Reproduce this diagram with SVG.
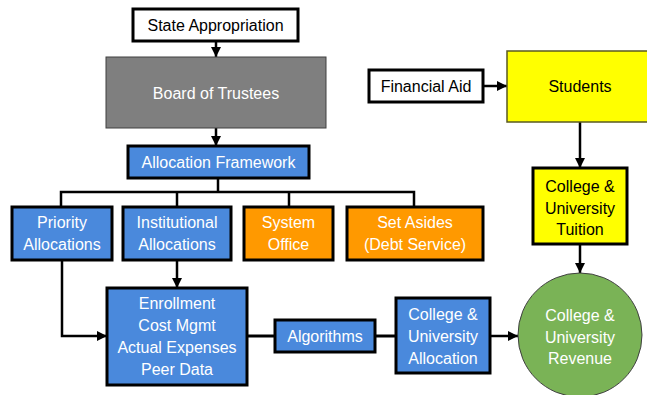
<svg xmlns="http://www.w3.org/2000/svg" width="647" height="395" viewBox="0 0 647 395">
<defs>
<marker id="ah" viewBox="0 0 10 10" refX="10" refY="5" markerWidth="4" markerHeight="4" orient="auto" markerUnits="strokeWidth">
<path d="M0,0 L10,5 L0,10 z" fill="#000"/>
</marker>
<style>
text{font-family:"Liberation Sans",Arial,sans-serif;font-size:16px;text-anchor:middle}
.w{fill:#fff}
.k{fill:#000}
.box{stroke:#000;stroke-width:3}
.blue{fill:#4A89DC}
.orange{fill:#FF9900}
.yellow{fill:#FFFF00}
.white{fill:#fff}
.conn{stroke:#000;stroke-width:2.5;fill:none}
</style>
</defs>
<rect width="647" height="395" fill="#fff"/>
<g id="connectors">
<path class="conn" d="M216,41 V57" marker-end="url(#ah)"/>
<path class="conn" d="M216,128 V146" marker-end="url(#ah)"/>
<path class="conn" d="M218,178 V192"/>
<path class="conn" d="M61,207 V192 H414 V207"/>
<path class="conn" d="M177,192 V207"/>
<path class="conn" d="M289,192 V207"/>
<path class="conn" d="M177,260 V288" marker-end="url(#ah)"/>
<path class="conn" d="M62,260 V336 H107" marker-end="url(#ah)"/>
<path class="conn" d="M247,336 H275" style="stroke-width:3"/>
<path class="conn" d="M375,336 H396" style="stroke-width:3"/>
<path class="conn" d="M490,336 H518" marker-end="url(#ah)"/>
<path class="conn" d="M483,86 H507" marker-end="url(#ah)"/>
<path class="conn" d="M580,122 V168" marker-end="url(#ah)"/>
<path class="conn" d="M580,244 V273" marker-end="url(#ah)"/>
</g>
<g id="state">
<rect class="box white" x="133" y="9" width="165" height="32"/>
<text class="k" x="215.5" y="31">State Appropriation</text>
</g>
<g id="board">
<rect x="106" y="57" width="220" height="71" fill="#7F7F7F" stroke="#404040" stroke-width="1"/>
<text class="w" x="216" y="98.5">Board of Trustees</text>
</g>
<g id="framework">
<rect class="box blue" x="128" y="146" width="181" height="32"/>
<text class="w" x="218.5" y="168">Allocation Framework</text>
</g>
<g id="priority">
<rect class="box blue" x="12" y="207" width="100" height="53"/>
<text class="w" x="62" y="228">Priority</text>
<text class="w" x="62" y="250">Allocations</text>
</g>
<g id="institutional">
<rect class="box blue" x="123" y="207" width="108" height="53"/>
<text class="w" x="177" y="228">Institutional</text>
<text class="w" x="177" y="250">Allocations</text>
</g>
<g id="system">
<rect class="box orange" x="244" y="207" width="89" height="53"/>
<text class="w" x="288.5" y="228">System</text>
<text class="w" x="288.5" y="250">Office</text>
</g>
<g id="setasides">
<rect class="box orange" x="347" y="207" width="136" height="53"/>
<text class="w" x="415" y="228">Set Asides</text>
<text class="w" x="415" y="250">(Debt Service)</text>
</g>
<g id="enrollment">
<rect class="box blue" x="107" y="288" width="140" height="97"/>
<text class="w" x="177" y="309">Enrollment</text>
<text class="w" x="177" y="331">Cost Mgmt</text>
<text class="w" x="177" y="353">Actual Expenses</text>
<text class="w" x="177" y="375">Peer Data</text>
</g>
<g id="algorithms">
<rect class="box blue" x="275" y="320" width="100" height="32"/>
<text class="w" x="325" y="342">Algorithms</text>
</g>
<g id="allocation">
<rect class="box blue" x="396" y="298" width="94" height="75"/>
<text class="w" x="443" y="320">College &amp;</text>
<text class="w" x="443" y="342">University</text>
<text class="w" x="443" y="364">Allocation</text>
</g>
<g id="revenue">
<circle cx="580" cy="335" r="62" fill="#7AB356" stroke="#404040" stroke-width="1"/>
<text class="w" x="580" y="321">College &amp;</text>
<text class="w" x="580" y="343">University</text>
<text class="w" x="580" y="364">Revenue</text>
</g>
<g id="financialaid">
<rect class="box white" x="369" y="70" width="114" height="32"/>
<text class="k" x="426" y="92">Financial Aid</text>
</g>
<g id="students">
<rect x="507" y="51" width="146" height="71" fill="#FFFF00" stroke="#5a5a20" stroke-width="1.5"/>
<text class="k" x="580" y="92">Students</text>
</g>
<g id="tuition">
<rect class="box yellow" x="533" y="168" width="94" height="76"/>
<text class="k" x="580" y="192">College &amp;</text>
<text class="k" x="580" y="214">University</text>
<text class="k" x="580" y="235">Tuition</text>
</g>
</svg>
